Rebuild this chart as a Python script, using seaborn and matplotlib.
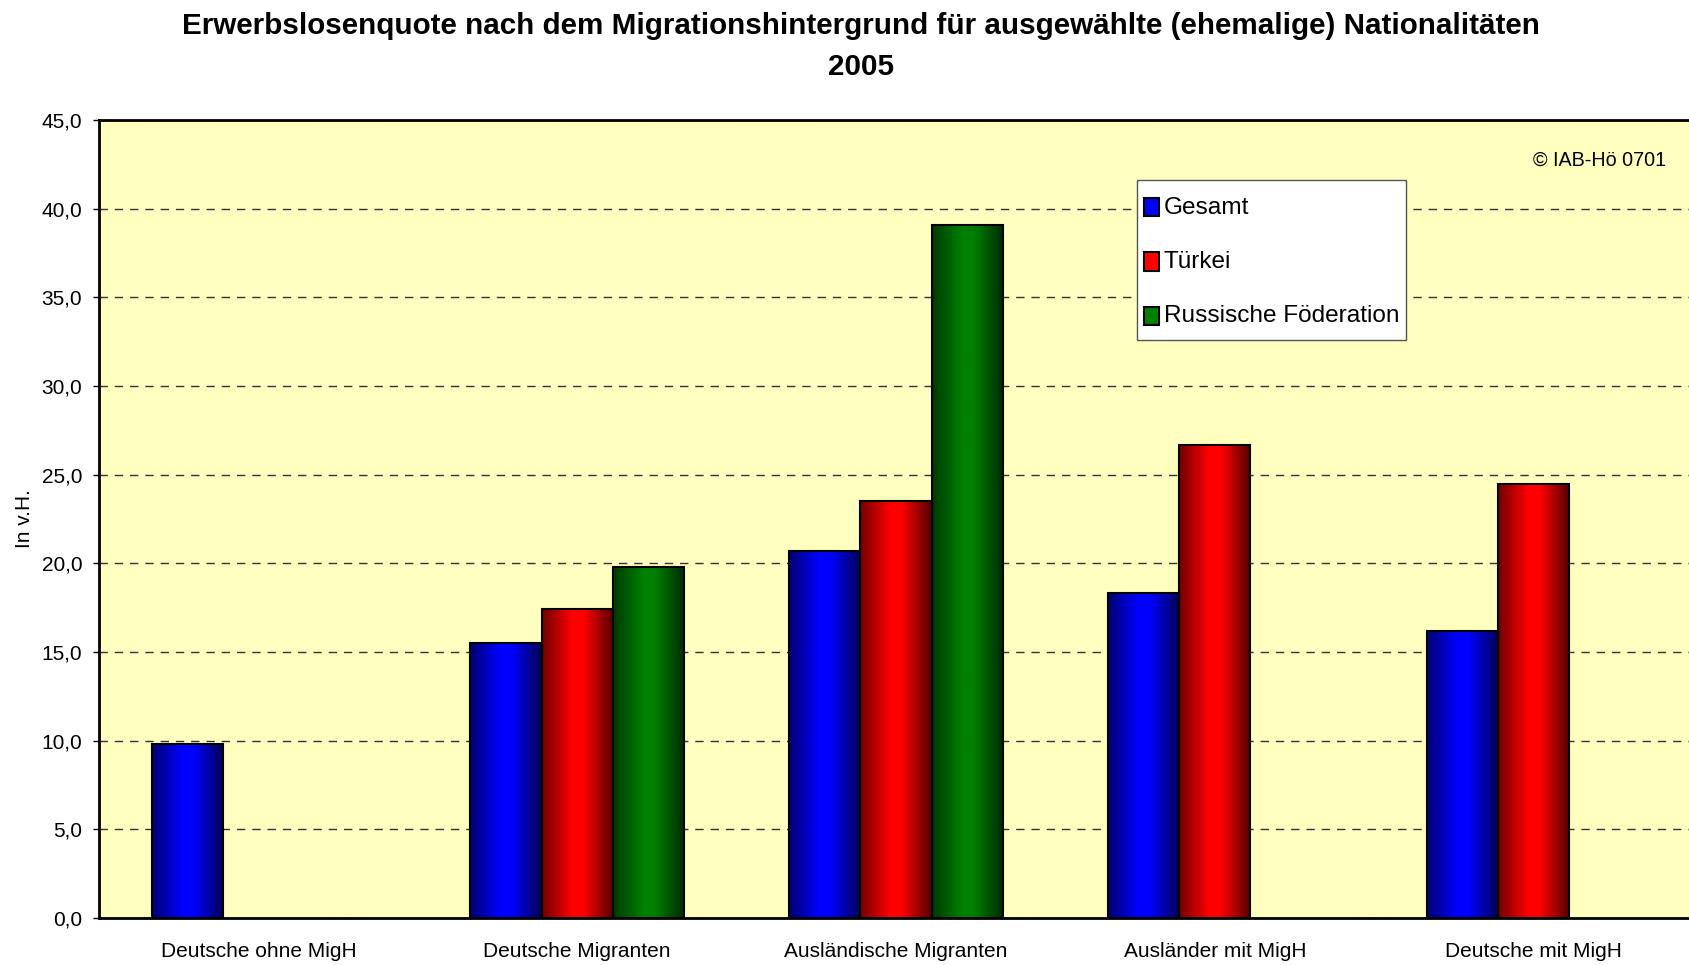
import numpy as np
import pandas as pd
import matplotlib
matplotlib.use("Agg")
import matplotlib.pyplot as plt
import seaborn as sns
from matplotlib.patches import Patch, Rectangle
from matplotlib.legend_handler import HandlerPatch
from matplotlib.colors import to_rgb

# data
categories = ["Deutsche ohne MigH", "Deutsche Migranten", "Ausländische Migranten",
              "Ausländer mit MigH", "Deutsche mit MigH"]
series = ["Gesamt", "Türkei", "Russische Föderation"]
gesamt = [9.8, 15.5, 20.7, 18.3, 16.2]
tuerkei = [np.nan, 17.4, 23.5, 26.7, 24.5]
russland = [np.nan, 19.8, 39.1, np.nan, np.nan]
colors = ["#0000FF", "#FF0000", "#008000"]
y_ticks = list(range(0, 46, 5))

df = pd.DataFrame({
    "kategorie": categories * 3,
    "reihe": np.repeat(series, len(categories)),
    "wert": gesamt + tuerkei + russland,
}).dropna()

sns.set_style("white")
plt.rcParams["font.family"] = ["Liberation Sans", "DejaVu Sans"]
for k in ["text.color", "axes.labelcolor", "xtick.color", "ytick.color"]:
    plt.rcParams[k] = "black"

fig = plt.figure(figsize=(16.89, 9.65), dpi=100)
ax = fig.add_axes([99 / 1689, 47 / 965, 1594 / 1689, 798 / 965])
ax.set_facecolor("#FFFFC0")

sns.barplot(data=df, x="kategorie", y="wert", hue="reihe", order=categories,
            hue_order=series, palette=colors, saturation=1, width=0.67, gap=0,
            errorbar=None, edgecolor="black", linewidth=1.5, legend=False, ax=ax)

# horizontal shading like the original cylinder-ish bars
prof = np.interp(np.linspace(0, 1, 64), [0, 0.42, 0.58, 1], [0.45, 1, 1, 0.33])
for bar in list(ax.patches):
    x0, y0 = bar.get_x(), bar.get_y()
    w, h = bar.get_width(), bar.get_height()
    if h <= 0:
        continue
    base = np.array(to_rgb(bar.get_facecolor()))
    img = prof[None, :, None] * base[None, None, :]
    im = ax.imshow(img, extent=[x0, x0 + w, y0, y0 + h], aspect="auto",
                   interpolation="bilinear", zorder=2)
    im.set_clip_path(bar)
    bar.set_facecolor("none")
    bar.set_zorder(3)

ax.set_xlim(-0.5, len(categories) - 0.5)
ax.set_ylim(0, 45)
ax.set_yticks(y_ticks)
ax.set_yticklabels([f"{v:.1f}".replace(".", ",") for v in y_ticks], fontsize=15)
ax.set_xticks(np.arange(-0.5, len(categories), 1))
ax.set_xticklabels([])
ax.set_xticks(range(len(categories)), minor=True)
ax.set_xticklabels(categories, minor=True, fontsize=15)
ax.tick_params(axis="x", which="minor", length=0, pad=17)
ax.tick_params(axis="x", which="major", length=7, width=1, color="#555555")
ax.tick_params(axis="y", length=4, width=1, color="black", pad=8, left=True)

ax.set_axisbelow(True)
ax.yaxis.grid(True, color="#333333", linestyle=(0, (6, 5)), linewidth=1)
ax.xaxis.grid(False)
for s in ax.spines.values():
    s.set_color("black")
    s.set_linewidth(2)

ax.set_xlabel("")
ax.set_ylabel("In v.H.", fontsize=15)
ax.yaxis.set_label_coords(-0.0405, 0.5)


# small upright squares in tall legend rows
def small_box(legend, orig_handle, xdescent, ydescent, width, height, fontsize):
    bw, bh = 10.8, 13.0
    cy = height / 2 - ydescent
    return Rectangle((-xdescent + (width - bw) / 2, cy - bh / 2 - 1), bw, bh)


handles = [Patch(facecolor=c, edgecolor="black", linewidth=1.5) for c in colors]
leg = fig.legend(handles, series, loc="upper left", bbox_to_anchor=(1137 / 1689, 1 - 180 / 965),
                 borderaxespad=0, frameon=True, fancybox=False, framealpha=1,
                 edgecolor="#555555", facecolor="white", handlelength=0.63, handleheight=2.05,
                 handletextpad=0.2, labelspacing=0.64, borderpad=0.27,
                 handler_map={Patch: HandlerPatch(patch_func=small_box)},
                 prop={"size": 17.6})
leg.get_frame().set_linewidth(1)

fig.text(1666 / 1689, 1 - 160 / 965, "© IAB-Hö 0701", ha="right", va="center",
         fontsize=14.2)

fig.text(861 / 1689, 1 - 26 / 965,
         "Erwerbslosenquote nach dem Migrationshintergrund für ausgewählte (ehemalige) Nationalitäten",
         ha="center", va="center", fontsize=21.3, fontweight="bold")
fig.text(861 / 1689, 1 - 67 / 965, "2005", ha="center", va="center",
         fontsize=21.3, fontweight="bold")

fig.savefig("out.png", dpi=100)
